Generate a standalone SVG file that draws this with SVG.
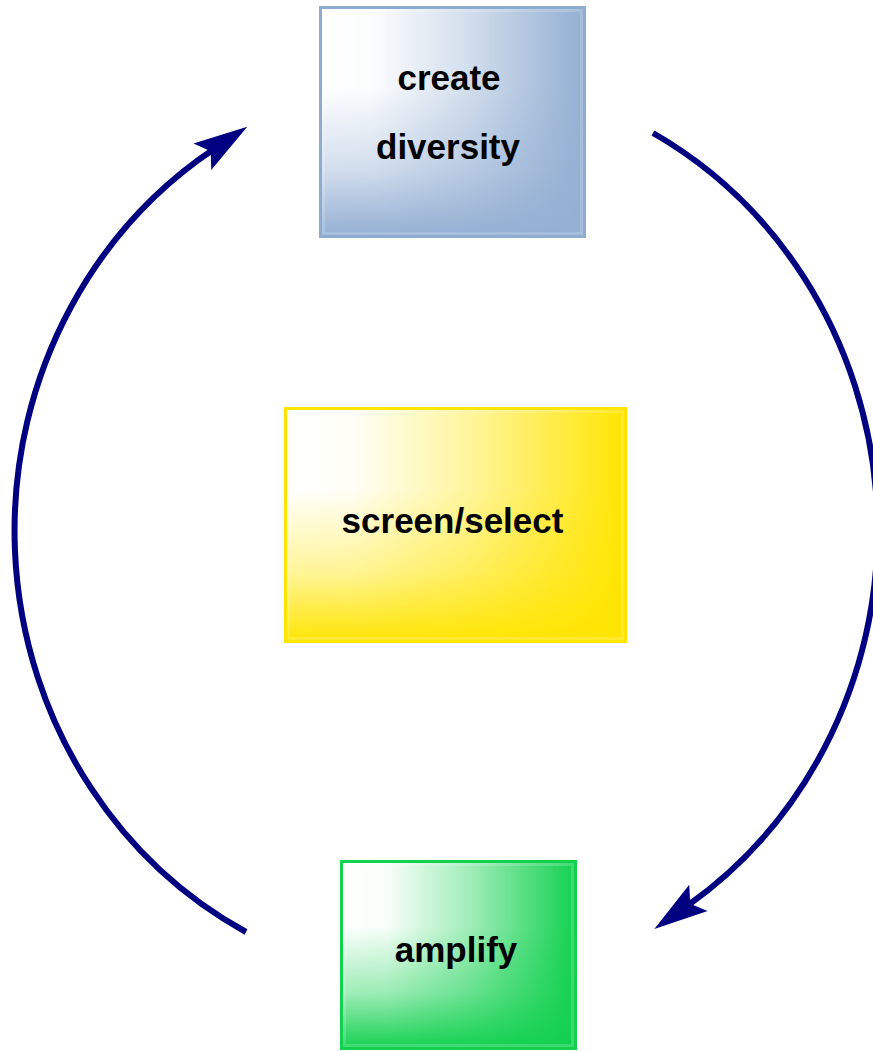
<svg xmlns="http://www.w3.org/2000/svg" width="873" height="1051" viewBox="0 0 873 1051">
  <defs>
    <!-- white wash fading toward the right edge -->
    <linearGradient id="washH" x1="0" y1="0" x2="1" y2="0">
      <stop offset="0" stop-color="#fff" stop-opacity="1"/>
      <stop offset="0.2" stop-color="#fff" stop-opacity="0.97"/>
      <stop offset="0.55" stop-color="#fff" stop-opacity="0.6"/>
      <stop offset="1" stop-color="#fff" stop-opacity="0"/>
    </linearGradient>
    <!-- mask fading the wash toward the bottom edge -->
    <linearGradient id="fadeV" x1="0" y1="0" x2="0" y2="1">
      <stop offset="0" stop-color="#fff"/>
      <stop offset="0.35" stop-color="#fff"/>
      <stop offset="0.7" stop-color="#999"/>
      <stop offset="1" stop-color="#000"/>
    </linearGradient>
    <mask id="maskV" maskContentUnits="objectBoundingBox">
      <rect x="0" y="0" width="1" height="1" fill="url(#fadeV)"/>
    </mask>
    <marker id="arrow" markerUnits="userSpaceOnUse" orient="auto" viewBox="-60 -30 120 60" markerWidth="120" markerHeight="60" refX="0" refY="0" overflow="visible">
      <path d="M40,0 L-14,-16 L-4,0 L-14,16 Z" fill="#000080"/>
    </marker>
  </defs>
  <style>
    .label { font-family: "Liberation Sans", Arial, sans-serif; font-weight: bold; font-size: 35px; fill: #000; text-anchor: middle; }
    .wash { fill: url(#washH); }
    .edge { fill: none; stroke-width: 3; }
    .bevel { fill: none; stroke: #fff; stroke-opacity: 0.18; stroke-width: 3; }
    .conn { fill: none; stroke: #000080; stroke-width: 6; marker-end: url(#arrow); }
  </style>

  <rect width="873" height="1051" fill="#fff"/>

  <g id="connectors">
    <path class="conn" d="M246,932 A432,453 0 0 1 214,149"/>
    <path class="conn" d="M653,133 A432,453 0 0 1 687,906"/>
  </g>

  <g id="create-diversity">
    <rect x="319" y="6" width="267" height="232" fill="#93afd3"/>
    <g mask="url(#maskV)"><rect class="wash" x="319" y="6" width="267" height="232"/></g>
    <rect class="bevel" x="323.5" y="10.5" width="258" height="223"/>
    <rect class="edge" x="320.5" y="7.5" width="264" height="229" stroke="#8eacd0"/>
    <text class="label" x="449" y="90">create</text>
    <text class="label" x="448" y="159">diversity</text>
  </g>

  <g id="screen-select">
    <rect x="284" y="407" width="343" height="236" fill="#ffe500"/>
    <g mask="url(#maskV)"><rect class="wash" x="284" y="407" width="343" height="236"/></g>
    <rect class="bevel" x="288.5" y="411.5" width="334" height="227"/>
    <rect class="edge" x="285.5" y="408.5" width="340" height="233" stroke="#ffe500"/>
    <text class="label" x="452.5" y="533">screen/select</text>
  </g>

  <g id="amplify">
    <rect x="340" y="860" width="237" height="190" fill="#12d14f"/>
    <g mask="url(#maskV)"><rect class="wash" x="340" y="860" width="237" height="190"/></g>
    <rect class="bevel" x="344.5" y="864.5" width="228" height="181"/>
    <rect class="edge" x="341.5" y="861.5" width="234" height="187" stroke="#12d14f"/>
    <text class="label" x="456" y="962">amplify</text>
  </g>
</svg>
